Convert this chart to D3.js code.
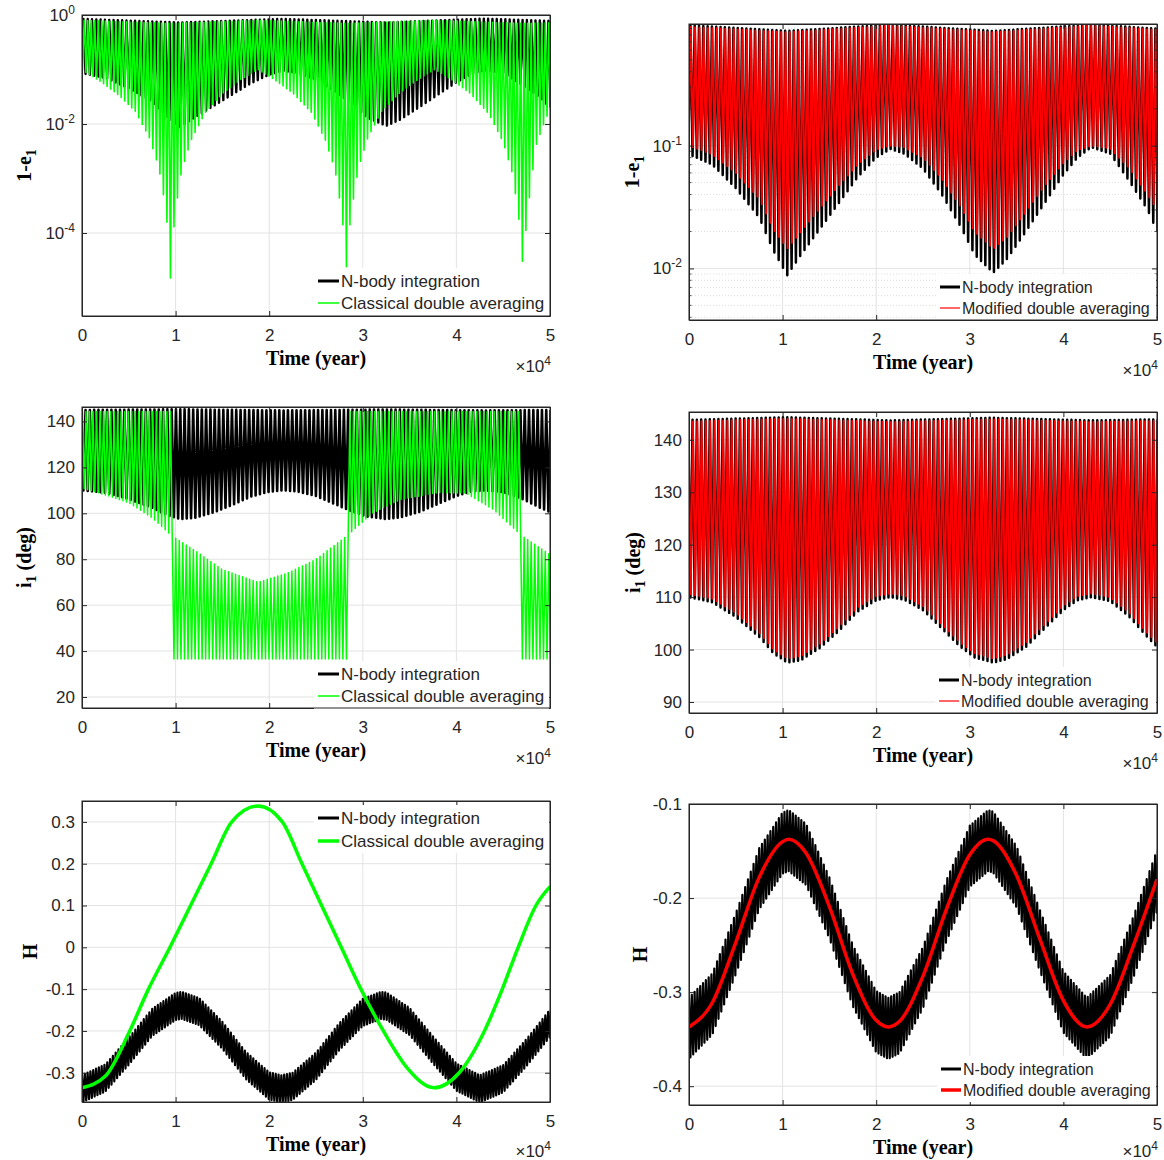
<!DOCTYPE html>
<html>
<head>
<meta charset="utf-8">
<script src="https://cdn.jsdelivr.net/npm/d3@7"></script>
<style>
  body { margin: 0; background: #fff; }
  svg text { font-family: "Liberation Sans", Arial, Helvetica, sans-serif; fill: #262626; }
  svg text.lab { font-family: "Liberation Serif", "Times New Roman", serif; font-weight: bold; fill: #000; }
</style>
</head>
<body>
<svg id="fig" width="1164" height="1160"></svg>
<script>
// time axis in units of 1e4 years
const xTicks = [0, 1, 2, 3, 4, 5];

// ---- N-body integration: envelope samples ----
const nbT      = [0, 0.25, 0.5, 0.75, 0.9, 1.05, 1.2, 1.4, 1.6, 1.8, 2.0, 2.15, 2.3, 2.5, 2.7, 2.9, 3.05, 3.25, 3.4, 3.6, 3.8, 4.0, 4.15, 4.3, 4.5, 4.7, 4.9, 5.0];
const nbEccLow = [0.085, 0.07, 0.045, 0.026, 0.014, 0.0088, 0.013, 0.021, 0.034, 0.055, 0.08, 0.094, 0.086, 0.065, 0.04, 0.022, 0.013, 0.0092, 0.012, 0.02, 0.034, 0.058, 0.08, 0.097, 0.086, 0.052, 0.03, 0.02];
const nbIncLow = [110, 109, 106.2, 102.4, 99.3, 97.5, 98, 100.3, 103.5, 107.2, 109.4, 110, 109.5, 107.5, 104, 100.5, 98.5, 97.5, 98.2, 100.5, 104, 107.5, 109.4, 110, 109.2, 106.3, 102.3, 100.5];
const peakT      = [0, 1.05, 2.15, 3.25, 4.3, 5.0];
const nbEccHighA = [0.85, 0.73, 0.85, 0.73, 0.86, 0.78];
const nbEccHighB = [0.96, 0.86, 0.97, 0.86, 0.97, 0.9];
const nbIncHighC = [145, 145.3, 144.8, 145.2, 144.8, 145];
const nbIncHighD = [143.8, 144.3, 143.7, 144.2, 143.7, 143.9];

// ---- Modified double averaging ----
const modEccLow  = [0.1, 0.085, 0.06, 0.037, 0.021, 0.0145, 0.02, 0.031, 0.047, 0.07, 0.093, 0.1, 0.097, 0.08, 0.054, 0.032, 0.02, 0.0145, 0.018, 0.029, 0.047, 0.072, 0.092, 0.1, 0.095, 0.066, 0.04, 0.03];
const modEccHigh = [0.93, 0.84, 0.95, 0.84, 0.95, 0.88];
const modIncLow  = [110.6, 109.7, 107, 103.2, 100.1, 98.3, 98.8, 101.1, 104.3, 108, 110.2, 110.7, 110.3, 108.3, 104.8, 101.3, 99.3, 98.3, 99, 101.3, 104.8, 108.3, 110.2, 110.7, 110, 107.1, 103.1, 101.3];
const modIncHigh = [143.5, 144, 143.4, 143.9, 143.4, 143.6];

// ---- H (energy) ----
const hT      = [0, 0.25, 0.5, 0.75, 1.0, 1.065, 1.25, 1.5, 1.75, 2.0, 2.13, 2.25, 2.5, 2.75, 3.0, 3.195, 3.25, 3.5, 3.75, 4.0, 4.25, 4.5, 4.75, 5.0];
const modH    = [-0.337, -0.311, -0.247, -0.178, -0.140, -0.1375, -0.152, -0.209, -0.281, -0.330, -0.337, -0.331, -0.283, -0.212, -0.154, -0.1375, -0.139, -0.176, -0.244, -0.309, -0.337, -0.313, -0.250, -0.180];
const nbHHigh = [-0.306, -0.280, -0.216, -0.147, -0.109, -0.1065, -0.121, -0.178, -0.250, -0.299, -0.306, -0.300, -0.252, -0.181, -0.123, -0.1065, -0.108, -0.145, -0.213, -0.278, -0.306, -0.282, -0.219, -0.149];
const nbHLow  = [-0.371, -0.345, -0.281, -0.212, -0.174, -0.1715, -0.186, -0.243, -0.315, -0.364, -0.371, -0.365, -0.317, -0.246, -0.188, -0.1715, -0.173, -0.210, -0.278, -0.343, -0.371, -0.347, -0.284, -0.214];
const clHT    = [0, 0.25, 0.5, 0.71, 0.94, 1.16, 1.38, 1.6, 1.88, 2.14, 2.35, 2.56, 2.77, 2.98, 3.22, 3.48, 3.76, 4.03, 4.3, 4.49, 4.66, 4.85, 5.0];
const clH     = [-0.336, -0.308, -0.205, -0.1, 0, 0.1, 0.2, 0.3, 0.338, 0.3, 0.2, 0.1, 0, -0.1, -0.2, -0.29, -0.336, -0.3, -0.2, -0.1, 0, 0.1, 0.145];

// ---- Classical double averaging ----
const clEccT    = [0, 0.2, 0.4, 0.57, 0.72, 0.82, 0.9, 0.945, 0.99, 1.065, 1.165, 1.315, 1.5, 1.7, 1.88, 2.05, 2.25, 2.455, 2.6, 2.705, 2.78, 2.825, 2.87, 2.955, 3.055, 3.2, 3.4, 3.6, 3.77, 3.95, 4.15, 4.35, 4.5, 4.6, 4.665, 4.71, 4.755, 4.85, 4.95, 5.0];
const clEccLow  = [0.098, 0.06, 0.033, 0.017, 0.0056, 0.0016, 0.00025, 0.000015, 0.0002, 0.0014, 0.005, 0.016, 0.036, 0.066, 0.1, 0.066, 0.037, 0.016, 0.005, 0.0014, 0.0002, 0.000024, 0.0002, 0.0016, 0.0056, 0.017, 0.038, 0.067, 0.1, 0.065, 0.036, 0.015, 0.0046, 0.0012, 0.0002, 0.000024, 0.0002, 0.004, 0.012, 0.018];
const clEccHighT = [0, 0.945, 1.88, 2.825, 3.77, 4.71, 5.0];
const clEccHigh  = [0.8, 0.7, 0.8, 0.7, 0.8, 0.7, 0.72];
const clIncT     = [0, 0.25, 0.5, 0.75, 0.95, 1.2, 1.5, 1.88, 2.2, 2.5, 2.84, 3.1, 3.4, 3.8, 4.1, 4.4, 4.69, 5.0];
const clIncBase  = [111, 108, 104.6, 98, 90.5, 84, 75.5, 70, 74, 80, 90.5, 100, 106, 109, 108.8, 101.5, 90.5, 82];
const clSpikeT   = [0, 0.95, 0.951, 2.84, 2.841, 4.69, 4.691, 5.0];
const clSpike    = [144.3, 144.3, 36.5, 36.5, 144.3, 144.3, 36.5, 36.5];

// fast-oscillation periods and time of one eccentricity maximum (1e4 yr)
const nbPeriod = 0.046, nbAnchor = 1.05;
const modPeriod = 0.046, modAnchor = 1.054;
const clPeriod = 0.0376, clAnchor = 0.945;
const hPeriod = 0.03;

const legNames = ['N-body integration', 'Classical double averaging', 'Modified double averaging'];

// ------------------------------------------------------------------
const svg = d3.select('#fig');
const colX = [[82, 550], [689, 1157]];
const ink = '#262626';
const fs = 17;

function zigzag(s, logY) {
  const f = logY ? Math.log10 : (v => v);
  const inv = logY ? (v => Math.pow(10, v)) : (v => v);
  const dip = d3.scaleLinear().domain(s.dipT).range(s.dip.map(f)).clamp(true);
  const base = d3.scaleLinear().domain(s.baseT).range(s.base.map(f)).clamp(true);
  const half = s.period / 2;
  const pts = [];
  for (let k = Math.floor(-s.anchor / half) - 1; s.anchor + k * half <= 5 + half; k++) {
    const t = s.anchor + k * half;
    pts.push([t, inv(k % 2 === 0 ? dip(t) : base(t))]);
  }
  return pts;
}

function supText(sel, main, sup) {
  sel.text(main);
  sel.append('tspan').attr('dy', -7).attr('font-size', 12).text(sup);
}

function drawPanel(p) {
  const [x0, x1] = colX[p.col];
  const x = d3.scaleLinear().domain([0, 5]).range([x0, x1]);
  const y = (p.log ? d3.scaleLog() : d3.scaleLinear()).domain(p.yDomain).range([p.bottom, p.top]);
  const g = svg.append('g');
  const clipId = 'clip' + p.id;
  svg.append('clipPath').attr('id', clipId).append('rect')
    .attr('x', x0).attr('y', p.top).attr('width', x1 - x0).attr('height', p.bottom - p.top);

  // grid
  if (p.minor) {
    g.selectAll('.mg').data(p.minor).join('line')
      .attr('x1', x0).attr('x2', x1).attr('y1', d => y(d)).attr('y2', d => y(d))
      .attr('stroke', '#d4d4d4').attr('stroke-width', 0.8).attr('stroke-dasharray', '1,2');
  }
  g.selectAll('.gy').data(p.yTicks).join('line')
    .attr('x1', x0).attr('x2', x1).attr('y1', d => y(d)).attr('y2', d => y(d))
    .attr('stroke', '#e3e3e3').attr('stroke-width', 1);
  g.selectAll('.gx').data(xTicks).join('line')
    .attr('x1', d => x(d)).attr('x2', d => x(d)).attr('y1', p.top).attr('y2', p.bottom)
    .attr('stroke', '#e3e3e3').attr('stroke-width', 1);

  // series
  const plot = g.append('g').attr('clip-path', `url(#${clipId})`);
  p.series.forEach(s => {
    const pts = s.kind === 'zig' ? zigzag(s, p.log) : s.t.map((t, i) => [t, s.v[i]]);
    plot.append('path').datum(pts)
      .attr('d', d3.line().x(d => x(d[0])).y(d => y(d[1]))
        .curve(s.kind === 'zig' ? d3.curveLinear : d3.curveMonotoneX))
      .attr('fill', 'none').attr('stroke', s.color).attr('stroke-width', s.width)
      .attr('stroke-linejoin', 'round');
  });

  // axes (ticks inside)
  const ax = g.append('g').attr('transform', `translate(0,${p.bottom})`)
    .call(d3.axisBottom(x).tickValues(xTicks).tickSizeInner(-5).tickSizeOuter(0).tickPadding(11).tickFormat(d3.format('d')));
  g.append('g').attr('transform', `translate(0,${p.top})`)
    .call(d3.axisTop(x).tickValues(xTicks).tickSizeInner(-5).tickSizeOuter(0).tickFormat(''));
  g.append('g').attr('transform', `translate(${x0},0)`)
    .call(d3.axisLeft(y).tickValues(p.yTicks).tickSizeInner(-5).tickSizeOuter(0).tickPadding(7)
      .tickFormat(p.log ? () => '' : p.fmt));
  g.append('g').attr('transform', `translate(${x1},0)`)
    .call(d3.axisRight(y).tickValues(p.yTicks).tickSizeInner(-5).tickSizeOuter(0).tickFormat(''));
  g.selectAll('.domain, .tick line').attr('stroke', ink).attr('stroke-width', 1);
  g.selectAll('.tick text').attr('font-size', fs).attr('fill', ink)
    .attr('font-family', '"Liberation Sans", Arial, sans-serif');
  ax.selectAll('.tick text').attr('dy', '0.8em');
  if (p.log) {
    p.yTicks.forEach(v => {
      const t = g.append('text').attr('x', x0 - 7).attr('y', y(v) + 6).attr('text-anchor', 'end').attr('font-size', fs);
      supText(t, '10', String(Math.round(Math.log10(v))));
    });
  }
  if (p.log && p.minor) {
    g.selectAll('.mt').data(p.minor).join('line')
      .attr('x1', x0).attr('x2', x0 + 2.5).attr('y1', d => y(d)).attr('y2', d => y(d))
      .attr('stroke', ink).attr('stroke-width', 0.8);
    g.selectAll('.mt2').data(p.minor).join('line')
      .attr('x1', x1).attr('x2', x1 - 2.5).attr('y1', d => y(d)).attr('y2', d => y(d))
      .attr('stroke', ink).attr('stroke-width', 0.8);
  }

  // legend
  const lg = p.legend;
  g.append('rect').attr('x', lg.x - 4).attr('y', lg.y - 13).attr('width', x1 - lg.x + 3)
    .attr('height', lg.h).attr('fill', '#fff');
  lg.items.forEach((it, i) => {
    const cy = lg.y + i * lg.dy;
    g.append('line').attr('x1', lg.x).attr('x2', lg.x + lg.len).attr('y1', cy).attr('y2', cy)
      .attr('stroke', it.color).attr('stroke-width', it.width);
    g.append('text').attr('x', lg.x + lg.len + 2).attr('y', cy).attr('dy', '0.36em')
      .attr('font-size', lg.fs).attr('fill', '#000').text(it.name);
  });

  // labels
  g.append('text').attr('class', 'lab').attr('x', (x0 + x1) / 2).attr('y', p.bottom + 49)
    .attr('text-anchor', 'middle').attr('font-size', 20).text('Time (year)');
  const e = g.append('text').attr('x', x1 + 1).attr('y', Math.min(p.bottom + 56, 1157))
    .attr('text-anchor', 'end').attr('font-size', fs).attr('fill', ink);
  supText(e, '\u00d710', '4');
  const yl = g.append('text').attr('class', 'lab').attr('font-size', 20).attr('text-anchor', 'middle')
    .attr('transform', `translate(${p.ylabX},${(p.top + p.bottom) / 2}) rotate(-90)`);
  yl.text(p.ylab[0]);
  if (p.ylab[1]) {
    yl.append('tspan').attr('dy', 5).attr('font-size', 14).text(p.ylab[1]);
    if (p.ylab[2]) yl.append('tspan').attr('dy', -5).text(p.ylab[2]);
  }

  // frame on top
  g.append('rect').attr('x', x0).attr('y', p.top).attr('width', x1 - x0).attr('height', p.bottom - p.top)
    .attr('fill', 'none').attr('stroke', ink).attr('stroke-width', 1);
}

const minorB = [];
[0.001, 0.01, 0.1].forEach(dec => d3.range(2, 10).forEach(m => {
  const v = m * dec; if (v > 0.0038 && v < 0.98) minorB.push(v);
}));
const fmtH = v => (Math.abs(v) < 1e-9 ? '0' : d3.format('.1f')(v).replace('\u2212', '-'));

const black = '#000', green = '#00ff00', red = '#ff0000';
const zig = (period, anchor, color) => (dip, dipT, base, baseT, w) =>
  ({ kind: 'zig', dipT, dip, baseT, base, period, anchor, color, width: w });
const nbZig = zig(nbPeriod, nbAnchor, black);
const modZig = zig(modPeriod, modAnchor, red);
const clZig = zig(clPeriod, clAnchor, green);
const hZig = zig(hPeriod, 0, black);

const legL = (y, dy, w2, c2, n2) => ({ x: 318, y, dy, h: 48, len: 21, fs: 17, items: [
  { name: legNames[0], color: black, width: 3 }, { name: legNames[n2], color: c2, width: w2 }] });
const legR = (x, y, dy, w2, n2) => ({ x, y, dy, h: 46, len: 20, fs: 16, items: [
  { name: legNames[0], color: black, width: 3 }, { name: legNames[n2], color: red, width: w2 }] });

const panels = [
  { id: 'A', col: 0, top: 15, bottom: 316, log: true, yDomain: [3.0e-6, 1], yTicks: [1e-4, 1e-2, 1],
    ylab: ['1-e', '1'], ylabX: 31,
    series: [nbZig(nbEccLow, nbT, nbEccHighA, peakT, 2.4), clZig(clEccLow, clEccT, clEccHigh, clEccHighT, 1.6)],
    legend: legL(281, 22, 1.5, green, 1) },
  { id: 'B', col: 1, top: 24, bottom: 320, log: true, yDomain: [0.0038, 0.98], yTicks: [0.01, 0.1], minor: minorB,
    ylab: ['1-e', '1'], ylabX: 639,
    series: [nbZig(nbEccLow, nbT, nbEccHighB, peakT, 2.5), modZig(modEccLow, nbT, modEccHigh, peakT, 1.9)],
    legend: legR(940, 287, 21, 1.2, 2) },
  { id: 'C', col: 0, top: 407, bottom: 708, yDomain: [15.2, 146.3], yTicks: [20, 40, 60, 80, 100, 120, 140], fmt: d3.format('d'),
    ylab: ['i', '1', ' (deg)'], ylabX: 31,
    series: [nbZig(nbIncHighC, peakT, nbIncLow, nbT, 2.6), clZig(clSpike, clSpikeT, clIncBase, clIncT, 1.5)],
    legend: legL(674, 22, 1.5, green, 1) },
  { id: 'D', col: 1, top: 412, bottom: 713, yDomain: [87.9, 145.3], yTicks: [90, 100, 110, 120, 130, 140], fmt: d3.format('d'),
    ylab: ['i', '1', ' (deg)'], ylabX: 640,
    series: [nbZig(nbIncHighD, peakT, nbIncLow, nbT, 2.5), modZig(modIncHigh, peakT, modIncLow, nbT, 1.9)],
    legend: legR(939, 680, 21, 1.2, 2) },
  { id: 'E', col: 0, top: 801, bottom: 1102, yDomain: [-0.37, 0.35], yTicks: [-0.3, -0.2, -0.1, 0, 0.1, 0.2, 0.3], fmt: fmtH,
    ylab: ['H'], ylabX: 37,
    series: [hZig(nbHHigh, hT, nbHLow, hT, 2.2), { kind: 'line', t: clHT, v: clH, color: green, width: 3.5 }],
    legend: legL(818, 23, 3.5, green, 1) },
  { id: 'F', col: 1, top: 804, bottom: 1105, yDomain: [-0.42, -0.1], yTicks: [-0.4, -0.3, -0.2, -0.1], fmt: fmtH,
    ylab: ['H'], ylabX: 647,
    series: [hZig(nbHHigh, hT, nbHLow, hT, 2.2), { kind: 'line', t: hT, v: modH, color: red, width: 3.5 }],
    legend: legR(941, 1069, 21, 3.5, 2) }
];

panels.forEach(drawPanel);
</script>
</body>
</html>
